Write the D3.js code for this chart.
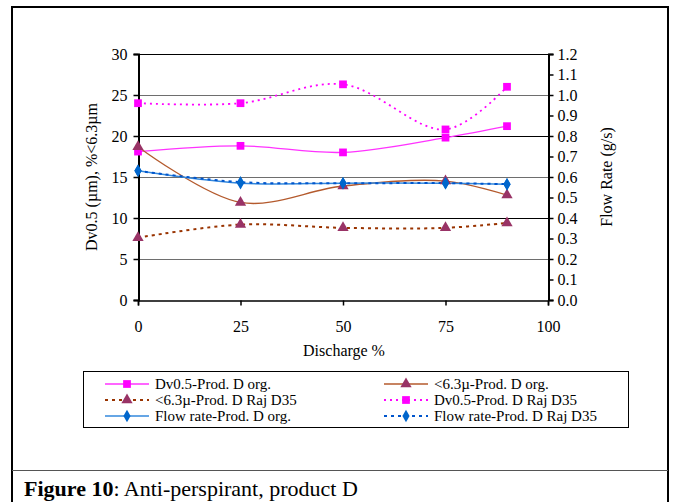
<!DOCTYPE html>
<html>
<head>
<meta charset="utf-8">
<script src="https://cdn.jsdelivr.net/npm/d3@7"></script>
<style>
  body { margin: 0; background: #fff; }
  svg { display: block; font-family: "Liberation Serif", "Times New Roman", serif; }
</style>
</head>
<body>
<svg id="chart" width="673" height="502"></svg>
<script>
// discharge points (x axis)
const discharge = [0, 25, 50, 75, 90];

// left axis series
const dvOrg = [18.1, 18.8, 18.0, 19.8, 21.2];
const dvRaj = [24.0, 24.0, 26.3, 20.8, 26.0];
const finesOrg = [18.7, 11.9, 13.9, 14.5, 12.8];
const finesRaj = [7.6, 9.2, 8.8, 8.8, 9.4];

// right axis series (g/s)
const flowOrg = [0.63, 0.57, 0.57, 0.57, 0.565];
const flowRaj = [0.63, 0.575, 0.57, 0.57, 0.565];

const xTicks = [0, 25, 50, 75, 100];
const leftTicks = [0, 5, 10, 15, 20, 25, 30];
const rightTicks = [0, 0.1, 0.2, 0.3, 0.4, 0.5, 0.6, 0.7, 0.8, 0.9, 1.0, 1.1, 1.2];

let svg = d3.select("#chart");

let x = d3.scaleLinear().domain([0, 100]).range([138, 548]);
let yL = d3.scaleLinear().domain([0, 30]).range([300, 54]);
let yR = d3.scaleLinear().domain([0, 1.2]).range([300, 54]);

// outer frame + caption separator
svg.append("rect")
    .attr("x", 12).attr("y", 7)
    .attr("width", 656).attr("height", 500)
    .attr("fill", "none").attr("stroke", "#000").attr("stroke-width", 2);
svg.append("line")
    .attr("x1", 12).attr("x2", 668)
    .attr("y1", 470.5).attr("y2", 470.5)
    .attr("stroke", "#555").attr("stroke-width", 1);

// gridlines
svg.append("g")
    .selectAll("line")
    .data(leftTicks.filter(d => d > 0))
    .enter().append("line")
    .attr("x1", x(0)).attr("x2", x(100))
    .attr("y1", d => Math.round(yL(d)) + 0.5)
    .attr("y2", d => Math.round(yL(d)) + 0.5)
    .attr("stroke", d => d % 10 === 0 ? "#000" : "#6e6e6e")
    .attr("stroke-width", 1);

// axes
let gx = svg.append("g")
    .attr("transform", "translate(0,300.5)")
    .call(d3.axisBottom(x).tickValues(xTicks).tickSize(5).tickPadding(15));
let gl = svg.append("g")
    .attr("transform", "translate(138.5,0)")
    .call(d3.axisLeft(yL).tickValues(leftTicks).tickSize(5).tickPadding(6));
let gr = svg.append("g")
    .attr("transform", "translate(548.5,0)")
    .call(d3.axisRight(yR).tickValues(rightTicks).tickSize(5).tickPadding(4)
        .tickFormat(d3.format(".1f")));

[gx, gl, gr].forEach(g => {
    g.selectAll(".domain").attr("stroke", "#000").attr("stroke-width", 2);
    g.selectAll(".tick line").attr("stroke", "#000").attr("stroke-width", 1.5);
    g.selectAll("text").attr("font-size", 16).attr("fill", "#000")
        .attr("font-family", "Liberation Serif");
});
gx.select(".domain").attr("stroke-width", 1.5);

// axis titles
svg.append("text")
    .attr("x", 344).attr("y", 356)
    .attr("text-anchor", "middle").attr("font-size", 16)
    .text("Discharge %");
svg.append("text")
    .attr("transform", "translate(97,177) rotate(-90)")
    .attr("text-anchor", "middle").attr("font-size", 16)
    .text("Dv0.5 (µm), %<6.3µm");
svg.append("text")
    .attr("transform", "translate(612,177) rotate(-90)")
    .attr("text-anchor", "middle").attr("font-size", 16)
    .text("Flow Rate (g/s)");

const series = [
    {name: "Dv0.5-Prod. D org.", values: dvOrg, y: yL, line: "#ff33ff", dash: null, marker: "square", fill: "#ff00ff", w: 1.3},
    {name: "<6.3µ-Prod. D org.", values: finesOrg, y: yL, line: "#b45a2d", dash: null, marker: "triangle", fill: "#993366", w: 1.3},
    {name: "<6.3µ-Prod. D Raj D35", values: finesRaj, y: yL, line: "#993300", dash: "3,4", marker: "triangle", fill: "#993366", w: 2},
    {name: "Dv0.5-Prod. D Raj D35", values: dvRaj, y: yL, line: "#ff00ff", dash: "2,4", marker: "square", fill: "#ff00ff", w: 1.8},
    {name: "Flow rate-Prod. D org.", values: flowOrg, y: yR, line: "#3388dd", dash: null, marker: "diamond", fill: "#0066cc", w: 1.5},
    {name: "Flow rate-Prod. D Raj D35", values: flowRaj, y: yR, line: "#0055cc", dash: "3,4", marker: "diamond", fill: "#0066cc", w: 2},
];

const symbols = {
    square: d3.symbol().type(d3.symbolSquare).size(60),
    triangle: d3.symbol().type(d3.symbolTriangle).size(55),
    diamond: d3.symbol().type(d3.symbolDiamond).size(45),
};

let lineGroup = svg.append("g").attr("class", "series");

series.forEach(s => {
    let pts = discharge.map((d, i) => [d, s.values[i]]);
    let line = d3.line()
        .x(d => x(d[0]))
        .y(d => s.y(d[1]))
        .curve(d3.curveCatmullRom.alpha(0.5));
    lineGroup.append("path")
        .datum(pts)
        .attr("d", line)
        .attr("fill", "none")
        .attr("stroke", s.line)
        .attr("stroke-width", s.w)
        .attr("stroke-dasharray", s.dash);
});

series.forEach(s => {
    lineGroup.append("g")
        .selectAll("path")
        .data(discharge.map((d, i) => [d, s.values[i]]))
        .enter().append("path")
        .attr("d", symbols[s.marker])
        .attr("transform", d => "translate(" + x(d[0]) + "," + s.y(d[1]) + ")")
        .attr("fill", s.fill);
});

// legend
let legend = svg.append("g");
legend.append("rect")
    .attr("x", 83.5).attr("y", 371.5)
    .attr("width", 545).attr("height", 56)
    .attr("fill", "none").attr("stroke", "#000").attr("stroke-width", 1);

let item = legend.selectAll("g.item")
    .data(series)
    .enter().append("g")
    .attr("class", "item")
    .attr("transform", (d, i) => "translate(" + (i % 2 === 0 ? 105 : 384) + "," + (384 + Math.floor(i / 2) * 16) + ")");

item.append("line")
    .attr("x1", 0).attr("x2", 44)
    .attr("stroke", d => d.line)
    .attr("stroke-width", d => d.w)
    .attr("stroke-dasharray", d => d.dash);
item.append("path")
    .attr("d", d => symbols[d.marker]())
    .attr("transform", "translate(22,0)")
    .attr("fill", d => d.fill);
item.append("text")
    .attr("x", 50).attr("dy", "0.35em")
    .attr("font-size", 15)
    .text(d => d.name);

// caption
let cap = svg.append("text")
    .attr("x", 24).attr("y", 496)
    .attr("font-size", 22);
cap.append("tspan").attr("font-weight", "bold").text("Figure 10");
cap.append("tspan").text(": Anti-perspirant, product D");
</script>
</body>
</html>
